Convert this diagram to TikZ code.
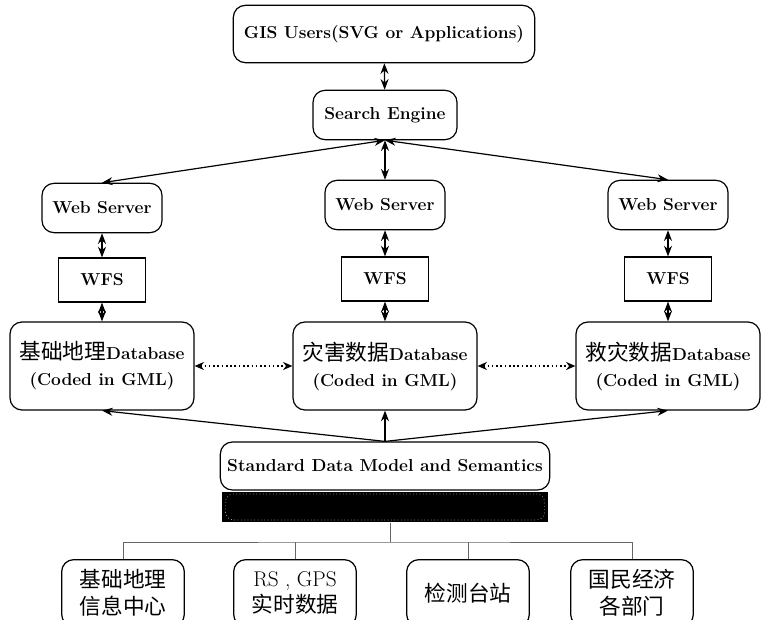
\documentclass[tikz,border=0pt]{standalone}
\usepackage{fontspec}
\newfontfamily\cjk[Scale=1.25]{Noto Sans CJK SC}
\newcommand{\zh}[1]{{\mdseries\cjk #1}}
\usetikzlibrary{arrows.meta}

\tikzset{
  rbox/.style={draw, line width=0.9pt, rounded corners=9pt, align=center,
    font=\fontsize{13}{19.5}\selectfont\bfseries, inner sep=2pt},
  sbox/.style={draw, line width=0.9pt, align=center,
    font=\fontsize{13}{19.5}\selectfont\bfseries},
  link/.style={line width=0.9pt, {Stealth[length=8pt,width=6pt]}-{Stealth[length=8pt,width=6pt]}},
  feed/.style={line width=0.9pt, -{Stealth[length=8pt,width=6pt]}},
  peer/.style={line width=1.2pt, dotted, {Stealth[length=7pt,width=6pt]}-{Stealth[length=7pt,width=6pt]}},
  tree/.style={draw=black!60, line width=0.5pt},
  src/.style={rbox, minimum width=92pt, minimum height=50pt,
    font=\fontsize{13}{20}\selectfont},
}

\begin{document}
\begin{tikzpicture}[x=0.75pt, y=-0.75pt]
  \useasboundingbox (0,0) rectangle (767,620);

  % users and search
  \node[rbox, minimum width=226pt, minimum height=43pt] (gis) at (384,34) {GIS Users(SVG or Applications)};
  \node[rbox, minimum width=108pt, minimum height=37pt] (search) at (385,115) {Search Engine};

  % three columns
  \node[rbox, minimum width=90pt, minimum height=37pt] (ws1) at (102,208) {Web Server};
  \node[rbox, minimum width=90pt, minimum height=37pt] (ws2) at (385,205) {Web Server};
  \node[rbox, minimum width=90pt, minimum height=37pt] (ws3) at (668,205) {Web Server};

  \node[sbox, minimum width=65pt, minimum height=33pt] (wfs1) at (102,280) {WFS};
  \node[sbox, minimum width=65pt, minimum height=33pt] (wfs2) at (385,279) {WFS};
  \node[sbox, minimum width=65pt, minimum height=33pt] (wfs3) at (668,279) {WFS};

  \node[rbox, minimum width=138pt, minimum height=66pt] (db1) at (102,366) {\zh{基础地理}Database\\(Coded in GML)};
  \node[rbox, minimum width=138pt, minimum height=66pt] (db2) at (385,366) {\zh{灾害数据}Database\\(Coded in GML)};
  \node[rbox, minimum width=138pt, minimum height=66pt] (db3) at (668,366) {\zh{救灾数据}Database\\(Coded in GML)};

  % model and bar
  \node[rbox, minimum width=247pt, minimum height=36pt] (std) at (385,466) {Standard Data Model and Semantics};
  \node[fill=black, minimum width=245pt, minimum height=23pt, inner sep=0pt] (bar) at (385,507) {};
  \draw[draw=black!25, dotted, line width=0.5pt, rounded corners=6pt]
    ([shift={(3pt,-2pt)}]bar.north west) rectangle ([shift={(-3pt,2pt)}]bar.south east);

  % sources
  \node[src] (s1) at (123,593) {\zh{基础地理}\\\zh{信息中心}};
  \node[src] (s2) at (295,593) {{\fontsize{16}{20}\selectfont RS , GPS}\\\zh{实时数据}};
  \node[src] (s3) at (468,593) {\zh{检测台站}};
  \node[src] (s4) at (632,593) {\zh{国民经济}\\\zh{各部门}};

  % connectors
  \draw[link] (gis) -- (search);
  \draw[link] (search.south) -- (ws1.north);
  \draw[link] (search.south) -- (ws2.north);
  \draw[link] (search.south) -- (ws3.north);
  \foreach \i in {1,2,3} {
    \draw[link] (ws\i) -- (wfs\i);
    \draw[link] (wfs\i) -- (db\i);
    \draw[feed] (std.north) -- (db\i.south);
  }
  \draw[peer] (db1) -- (db2);
  \draw[peer] (db2) -- (db3);

  \coordinate (bus) at (390,542);
  \draw[tree] (bar.south -| bus) -- (bus);
  \draw[tree] (s1.north) |- (bus) -| (s4.north);
  \draw[tree] (s2.north) -- (s2.north |- bus);
  \draw[tree] (s3.north) -- (s3.north |- bus);
\end{tikzpicture}
\end{document}
